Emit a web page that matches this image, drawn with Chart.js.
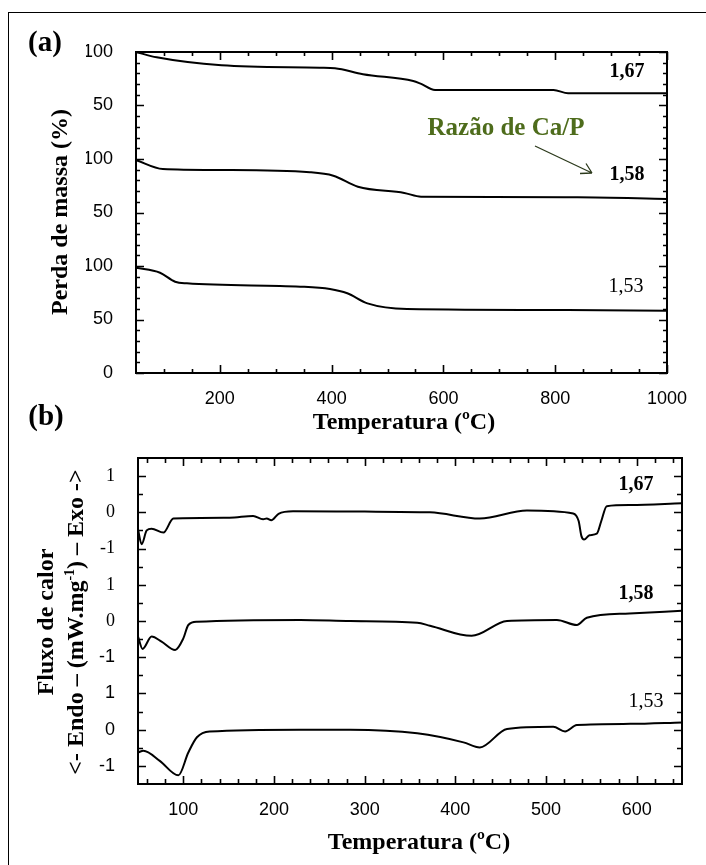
<!DOCTYPE html>
<html>
<head>
<meta charset="utf-8">
<script src="https://cdn.jsdelivr.net/npm/chart.js@4.4.1/dist/chart.umd.min.js"></script>
<style>
  html, body { margin: 0; padding: 0; background: #fff; overflow: hidden; }
  body { width: 706px; height: 865px; position: relative; }
  #frame { position: absolute; left: 8px; top: 12px; width: 760px; height: 900px; border: 1px solid #000; }
  canvas { position: absolute; left: 0; top: 0; }
</style>
</head>
<body>
<div id="frame"></div>
<canvas id="tga" width="706" height="865"></canvas>
<canvas id="dsc" width="706" height="865"></canvas>
<script>
// ---- (a) TGA: perda de massa (%) vs temperatura ----
const tgaT167 = [50, 87, 203, 379, 406, 456, 546, 558, 585, 700, 797, 823, 1000];
const tga167  = [100, 95, 87.6, 85.3, 84.8, 79.2, 72.9, 70.7, 64.5, 64.5, 64.5, 61.5, 61.5];
const tgaT158 = [50, 98, 204, 361, 403, 447, 530, 560, 840, 1000];
const tga158  = [99, 90.6, 89.7, 87.6, 84.4, 74.1, 68.3, 64.8, 64.2, 62.7];
const tgaT153 = [50, 93, 120, 141, 344, 397, 428, 464, 535, 822, 1000];
const tga153  = [98.4, 93.7, 85.3, 83.8, 80.7, 78.5, 74.5, 65.1, 59.8, 58.9, 58.2];
const tgaOffsets = [200, 100, 0];          // curves are stacked on the axis
const tgaXTicks = [200, 400, 600, 800, 1000];

// ---- (b) DSC: fluxo de calor vs temperatura ----
const dscT167 = [50, 54, 59.6, 65, 78, 89, 151, 177, 188, 192, 197, 205, 221, 300, 372, 427, 479, 530, 536, 539, 542, 548, 556, 561, 567, 593, 650];
const dsc167  = [-0.47, -0.88, -0.5, -0.45, -0.56, -0.17, -0.15, -0.1, -0.19, -0.17, -0.22, -0.04, 0.03, 0.02, 0, -0.17, 0.05, -0.03, -0.24, -0.65, -0.75, -0.63, -0.59, -0.24, 0.17, 0.2, 0.25];
const dscT158 = [50, 55, 65, 76, 91, 100, 105.5, 115, 229, 284, 358, 372, 418, 457, 512, 534, 545, 592, 650];
const dsc158  = [-0.43, -0.77, -0.43, -0.57, -0.8, -0.48, -0.11, -0.02, 0.03, 0, -0.05, -0.13, -0.41, 0, 0.03, -0.11, 0.09, 0.21, 0.28];
const dscT153 = [50, 56, 74, 94.5, 105.5, 115, 129, 229, 284, 358, 409, 427, 457, 508, 521, 534, 593, 650];
const dsc153  = [-0.63, -0.58, -0.86, -1.26, -0.63, -0.21, -0.05, 0, 0, -0.1, -0.35, -0.49, 0.02, 0.08, -0.05, 0.13, 0.16, 0.2];
const dscOffsets = [6, 3, 0];
const dscXTicks = [100, 200, 300, 400, 500, 600];

const ratioLabels = ['1,67', '1,58', '1,53'];

const SERIF = '"Liberation Serif", "Times New Roman", serif';
const SANS = '"Liberation Sans", Arial, sans-serif';

function series(xs, ys, off) {
    return {
        data: xs.map((x, i) => ({ x: x, y: ys[i] + off })),
        borderColor: '#000',
        borderWidth: 2,
        pointRadius: 0,
        fill: false,
        cubicInterpolationMode: 'monotone'
    };
}

function range(a, b, step) {
    const out = [];
    for (let v = a; v <= b + 1e-9; v += step) out.push(+v.toFixed(4));
    return out;
}

// frame around the plot + inward ticks on the four sides
const frameTicks = {
    id: 'frameTicks',
    afterDatasetsDraw(chart, args, o) {
        const { ctx, chartArea: a, scales } = chart;
        ctx.save();
        ctx.strokeStyle = '#000';
        ctx.beginPath();
        const tick = (list, len) => {
            list.forEach(v => {
                const px = Math.round(scales.x.getPixelForValue(v)) + 0.5;
                ctx.moveTo(px, a.bottom); ctx.lineTo(px, a.bottom - len);
                ctx.moveTo(px, a.top); ctx.lineTo(px, a.top + len);
            });
        };
        const tickY = (list, len) => {
            list.forEach(v => {
                const py = Math.round(scales.y.getPixelForValue(v)) + 0.5;
                ctx.moveTo(a.left, py); ctx.lineTo(a.left + len, py);
                ctx.moveTo(a.right, py); ctx.lineTo(a.right - len, py);
            });
        };
        ctx.lineWidth = 1.6;
        tick(o.xMinor, o.minor); tick(o.xMajor, o.major);
        tickY(o.yMinor, o.minor); tickY(o.yMajor, o.major);
        ctx.stroke();
        ctx.lineWidth = 2;
        ctx.strokeRect(a.left, a.top, a.right - a.left, a.bottom - a.top);
        ctx.restore();
    }
};

function text(ctx, s, x, y, font, color, rot) {
    ctx.save();
    ctx.font = font;
    ctx.fillStyle = color || '#000';
    ctx.textAlign = 'center';
    ctx.textBaseline = 'middle';
    ctx.translate(x, y);
    if (rot) ctx.rotate(-Math.PI / 2);
    ctx.fillText(s, 0, 0);
    ctx.restore();
}

const tgaText = {
    id: 'tgaText',
    afterDraw(chart) {
        const ctx = chart.ctx;
        text(ctx, '(a)', 45, 44, 'bold 29px ' + SERIF);
        text(ctx, 'Perda de massa (%)', 61, 212, 'bold 24px ' + SERIF, '#000', true);
        text(ctx, 'Temperatura (ºC)', 404, 423, 'bold 24px ' + SERIF);
        text(ctx, ratioLabels[0], 627, 72, 'bold 20px ' + SERIF);
        text(ctx, ratioLabels[1], 627, 175, 'bold 20px ' + SERIF);
        text(ctx, ratioLabels[2], 626, 287, '20px ' + SERIF);
        text(ctx, 'Razão de Ca/P', 506, 129, 'bold 25px ' + SERIF, '#4e6c1c');
        // arrow
        ctx.save();
        ctx.strokeStyle = '#2c3a1c';
        ctx.lineWidth = 1.3;
        ctx.beginPath();
        ctx.moveTo(535, 146); ctx.lineTo(592, 173);
        ctx.moveTo(592, 173); ctx.lineTo(580, 173.5);
        ctx.moveTo(592, 173); ctx.lineTo(586, 163.5);
        ctx.stroke();
        ctx.restore();
    }
};

const dscText = {
    id: 'dscText',
    afterDraw(chart) {
        const ctx = chart.ctx;
        text(ctx, '(b)', 46, 418, 'bold 29px ' + SERIF);
        text(ctx, 'Fluxo de calor', 47, 622, 'bold 24px ' + SERIF, '#000', true);
        // second line with superscript
        ctx.save();
        ctx.translate(77, 622);
        ctx.rotate(-Math.PI / 2);
        ctx.fillStyle = '#000';
        ctx.textBaseline = 'middle';
        ctx.textAlign = 'left';
        const big = 'bold 24px ' + SERIF, small = 'bold 14px ' + SERIF;
        const p1 = '<- Endo – (mW.mg', p2 = '-1', p3 = ') – Exo ->';
        ctx.font = big; const w1 = ctx.measureText(p1).width, w3 = ctx.measureText(p3).width;
        ctx.font = small; const w2 = ctx.measureText(p2).width;
        let x0 = -(w1 + w2 + w3) / 2;
        ctx.font = big; ctx.fillText(p1, x0, 0);
        ctx.font = small; ctx.fillText(p2, x0 + w1, -7);
        ctx.font = big; ctx.fillText(p3, x0 + w1 + w2, 0);
        ctx.restore();
        text(ctx, 'Temperatura (ºC)', 419, 843, 'bold 24px ' + SERIF);
        text(ctx, ratioLabels[0], 636, 485, 'bold 20px ' + SERIF);
        text(ctx, ratioLabels[1], 636, 594, 'bold 20px ' + SERIF);
        text(ctx, ratioLabels[2], 646, 702, '20px ' + SERIF);
    }
};

const tickFontSans = { family: SANS, size: 18 };

new Chart(document.getElementById('tga'), {
    type: 'line',
    data: {
        datasets: [
            series(tgaT167, tga167, tgaOffsets[0]),
            series(tgaT158, tga158, tgaOffsets[1]),
            series(tgaT153, tga153, tgaOffsets[2])
        ]
    },
    options: {
        responsive: false,
        animation: false,
        events: [],
        layout: { padding: { left: 86, right: 39, top: 52, bottom: 452 } },
        plugins: {
            legend: { display: false },
            tooltip: { enabled: false },
            frameTicks: {
                xMajor: tgaXTicks, xMinor: range(100, 950, 50),
                yMajor: range(0, 300, 50), yMinor: range(10, 290, 10),
                major: 8, minor: 4
            }
        },
        scales: {
            x: {
                type: 'linear', min: 50, max: 1000,
                afterBuildTicks: s => { s.ticks = tgaXTicks.map(v => ({ value: v })); },
                afterFit: s => { s.height = 40; },
                grid: { display: false }, border: { display: false },
                ticks: { color: '#000', font: tickFontSans, padding: 7, maxRotation: 0, autoSkip: false,
                         callback: v => String(v) }
            },
            y: {
                type: 'linear', min: 0, max: 300,
                afterBuildTicks: s => { s.ticks = range(0, 300, 50).map(v => ({ value: v })); },
                afterFit: s => { s.width = 50; },
                grid: { display: false }, border: { display: false },
                ticks: {
                    color: '#000', font: tickFontSans, padding: 15, autoSkip: false,
                    callback: v => v === 0 ? '0' : String(v % 100 === 0 ? 100 : 50)
                }
            }
        }
    },
    plugins: [frameTicks, tgaText]
});

new Chart(document.getElementById('dsc'), {
    type: 'line',
    data: {
        datasets: [
            series(dscT167, dsc167, dscOffsets[0]),
            series(dscT158, dsc158, dscOffsets[1]),
            series(dscT153, dsc153, dscOffsets[2])
        ]
    },
    options: {
        responsive: false,
        animation: false,
        events: [],
        layout: { padding: { left: 88, right: 24, top: 458, bottom: 41 } },
        plugins: {
            legend: { display: false },
            tooltip: { enabled: false },
            frameTicks: {
                xMajor: dscXTicks, xMinor: range(60, 640, 20),
                yMajor: range(-1, 7, 1), yMinor: range(-0.5, 7, 1),
                major: 8, minor: 5
            }
        },
        scales: {
            x: {
                type: 'linear', min: 50, max: 650,
                afterBuildTicks: s => { s.ticks = dscXTicks.map(v => ({ value: v })); },
                afterFit: s => { s.height = 40; },
                grid: { display: false }, border: { display: false },
                ticks: { color: '#000', font: tickFontSans, padding: 7, maxRotation: 0, autoSkip: false,
                         callback: v => String(v) }
            },
            y: {
                type: 'linear', min: -1.5, max: 7.5,
                afterBuildTicks: s => { s.ticks = range(-1, 7, 1).map(v => ({ value: v })); },
                afterFit: s => { s.width = 50; },
                grid: { display: false }, border: { display: false },
                ticks: {
                    color: '#000', padding: 15, autoSkip: false,
                    font: c => (c.tick && c.tick.value > 2.5) ? { family: SERIF, size: 18 } : { family: SANS, size: 18 },
                    callback: v => String((((Math.round(v) + 1) % 3) + 3) % 3 - 1)
                }
            }
        }
    },
    plugins: [frameTicks, dscText]
});
</script>
</body>
</html>
